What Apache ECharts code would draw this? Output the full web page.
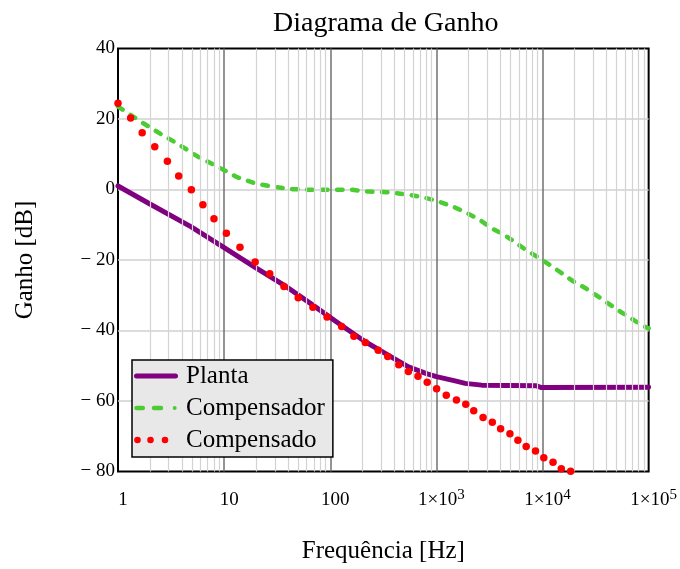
<!DOCTYPE html>
<html>
<head>
<meta charset="utf-8">
<script src="https://cdn.jsdelivr.net/npm/echarts@6/dist/echarts.min.js"></script>
<style>
  html, body { margin: 0; padding: 0; background: #fff; }
  #chart { width: 680px; height: 569px; }
</style>
</head>
<body>
<div id="chart"></div>
<script>
// valores: frequência [Hz] e ganho [dB]
const plantaFreq = [1, 2, 4.9, 10, 19.6, 36.6, 68.6, 128, 214, 348, 545, 820, 1000, 1500, 1870, 2670, 8770, 9800, 100000];
const plantaDb = [1.0, -4.1, -10.6, -16.5, -22.1, -27.1, -32.8, -38.6, -43.2, -46.9, -50.3, -52.3, -53.1, -54.3, -55.0, -55.5, -55.7, -56.2, -56.1];

const compensadorFreq = [1, 1.73, 2.48, 3.82, 5.66, 8.43, 13, 19.3, 28.6, 44.2, 68, 161, 231, 356, 528, 759, 1047, 1449, 1977, 2582, 3319, 4365, 5610, 7161, 9419, 11970, 15280, 19360, 25470, 32730, 41500, 53090, 68080, 87900, 100000];
const compensadorDb = [23.5, 18.8, 15.9, 12.6, 9.3, 6.7, 3.6, 1.8, 0.8, 0.1, -0.1, -0.1, -0.6, -0.8, -1.4, -2.2, -3.4, -4.9, -6.8, -8.7, -11.0, -12.9, -15.1, -17.4, -19.5, -21.6, -23.8, -26.0, -28.0, -30.2, -32.3, -34.5, -36.5, -38.7, -39.4];

const compensadoFreq = [1, 1.315, 1.69, 2.22, 2.92, 3.73, 4.91, 6.31, 8.02, 10.5, 14.1, 19.6, 26.9, 36.6, 49.9, 68.6, 93.3, 128, 167, 214, 283, 348, 442, 545, 671, 820, 1005, 1239, 1545, 1892, 2249, 2754, 3365, 4027, 4932, 5861, 7015, 8590, 10280, 12560, 15030, 18410];
const compensadoDb = [24.5, 20.3, 16.1, 12.1, 8.0, 3.8, -0.1, -4.3, -8.3, -12.4, -16.4, -20.6, -23.9, -27.5, -30.7, -33.4, -36.2, -38.9, -41.6, -43.4, -45.6, -47.4, -49.7, -51.6, -53.0, -54.7, -56.5, -58.4, -59.7, -60.9, -62.8, -64.7, -66.0, -67.9, -69.3, -71.1, -72.9, -74.2, -76.1, -77.4, -79.2, -79.9];

// grade secundária (2..9 de cada década)
const decadas = [1, 10, 100, 1000, 10000];
const multiplicadores = [2, 3, 4, 5, 6, 7, 8, 9];
const gradeMenor = decadas.flatMap(d => multiplicadores.map(m => m * d));

const fonte = "'Liberation Serif', 'Times New Roman', serif";

function junta(xs, ys) {
  return xs.map((x, i) => [x, ys[i]]);
}

// ícones da legenda (caixa 44x8); triângulos minúsculos fixam a caixa
const cantos = 'M0,0 L0.01,0 L0,0.01 Z M44,8 L43.99,8 L44,7.99 Z ';
const iconePlanta = 'path://' + cantos + 'M2.5,1.5 H41.5 A2.5,2.5 0 0 1 41.5,6.5 H2.5 A2.5,2.5 0 0 1 2.5,1.5 Z';
const iconeCompensador = 'path://' + cantos +
  'M2.5,1.75 H8.8 A2.25,2.25 0 0 1 8.8,6.25 H2.5 A2.25,2.25 0 0 1 2.5,1.75 Z ' +
  'M20,1.75 H27 A2.25,2.25 0 0 1 27,6.25 H20 A2.25,2.25 0 0 1 20,1.75 Z ' +
  'M38.7,4 A2,2 0 1 1 42.7,4 A2,2 0 1 1 38.7,4 Z';
const iconeCompensado = 'path://' + cantos +
  'M0.2,4 A3.3,3.3 0 1 1 6.8,4 A3.3,3.3 0 1 1 0.2,4 Z ' +
  'M13.2,4 A3.3,3.3 0 1 1 19.8,4 A3.3,3.3 0 1 1 13.2,4 Z ' +
  'M27.7,4 A3.3,3.3 0 1 1 34.3,4 A3.3,3.3 0 1 1 27.7,4 Z';

const myChart = echarts.init(document.getElementById('chart'));

myChart.setOption({
  animation: false,
  backgroundColor: '#fff',
  title: {
    text: 'Diagrama de Ganho',
    left: 268,
    top: 5,
    textStyle: { fontFamily: fonte, fontSize: 28, fontWeight: 'normal', color: '#000' }
  },
  grid: {
    left: 118,
    right: 29,
    top: 48.5,
    bottom: 97.5,
    show: true,
    borderColor: '#000',
    borderWidth: 2,
    backgroundColor: 'transparent'
  },
  legend: {
    z: 20,
    orient: 'vertical',
    left: 132,
    top: 360,
    padding: [3, 8, 4, 2],
    itemGap: 6,
    itemWidth: 44,
    itemHeight: 8,
    backgroundColor: '#e8e8e8',
    borderColor: '#000',
    borderWidth: 1.5,
    selectedMode: false,
    itemStyle: { borderWidth: 0, opacity: 1 },
    textStyle: { fontFamily: fonte, fontSize: 25, color: '#000', lineHeight: 26, padding: [0, 0, 0, 3] },
    data: [
      { name: 'Planta', icon: iconePlanta },
      { name: 'Compensador', icon: iconeCompensador },
      { name: 'Compensado', icon: iconeCompensado }
    ]
  },
  xAxis: {
    type: 'log',
    logBase: 10,
    min: 1,
    max: 100000,
    axisLine: { show: false },
    axisTick: { show: false },
    splitLine: { show: true, showMinLine: false, showMaxLine: false, lineStyle: { color: '#707070', width: 1.5 } },
    axisLabel: {
      margin: 16,
      padding: [0, 0, 0, 10],
      formatter: function (v) {
        const e = Math.round(Math.log10(v));
        if (e < 3) return '{m|' + Math.pow(10, e) + '}';
        return '{m|1×10}{s|' + e + '}';
      },
      rich: {
        m: { fontFamily: fonte, fontSize: 19, color: '#000', lineHeight: 26 },
        s: { fontFamily: fonte, fontSize: 15, color: '#000', lineHeight: 15, verticalAlign: 'top' }
      }
    },
    name: 'Frequência [Hz]',
    nameLocation: 'middle',
    nameGap: 67,
    nameTextStyle: { fontFamily: fonte, fontSize: 25, color: '#000' }
  },
  yAxis: {
    type: 'value',
    min: -80,
    max: 40,
    interval: 20,
    axisLine: { show: false },
    axisTick: { show: false },
    splitLine: { show: true, showMinLine: false, showMaxLine: false, lineStyle: { color: '#d0d0d0', width: 1.5 } },
    axisLabel: {
      margin: 3,
      fontFamily: fonte,
      fontSize: 19,
      color: '#000',
      formatter: function (v) {
        return v < 0 ? '\u2212 ' + (-v) : String(v);
      }
    },
    name: 'Ganho [dB]',
    nameLocation: 'middle',
    nameRotate: 90,
    nameGap: 80,
    nameTextStyle: { fontFamily: fonte, fontSize: 25, color: '#000' }
  },
  series: [
    {
      // linhas da grade secundária
      type: 'line',
      data: [],
      silent: true,
      z: 1,
      markLine: {
        silent: true,
        symbol: ['none', 'none'],
        label: { show: false },
        lineStyle: { type: 'solid', color: '#d3d3d3', width: 1.2 },
        data: gradeMenor.map(f => ({ xAxis: f }))
      }
    },
    {
      name: 'Planta',
      type: 'line',
      data: junta(plantaFreq, plantaDb),
      symbol: 'none',
      z: 3,
      itemStyle: { color: '#800080' },
      lineStyle: { color: '#800080', width: 5, join: 'round', cap: 'round' }
    },
    {
      name: 'Compensador',
      type: 'line',
      data: junta(compensadorFreq, compensadorDb),
      symbol: 'none',
      z: 4,
      itemStyle: { color: '#4ccc33' },
      lineStyle: { color: '#4ccc33', width: 4.5, type: [5.5, 9.5], cap: 'round', join: 'round' }
    },
    {
      name: 'Compensado',
      type: 'scatter',
      data: junta(compensadoFreq, compensadoDb),
      symbol: 'circle',
      symbolSize: 7.5,
      z: 5,
      itemStyle: { color: '#ff0000', opacity: 1 }
    }
  ]
});
</script>
</body>
</html>
